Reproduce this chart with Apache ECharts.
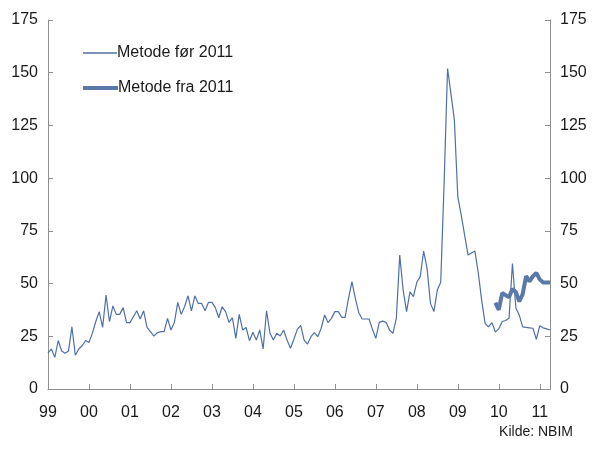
<!DOCTYPE html>
<html>
<head>
<meta charset="utf-8">
<script src="https://cdn.jsdelivr.net/npm/echarts@6/dist/echarts.min.js"></script>
<style>html,body{margin:0;padding:0;background:#fff}#c{width:592px;height:456px}</style>
</head>
<body>
<div id="c"></div>
<script>
// Monthly observations Jan 1999 - Apr 2011
var years = [1999, 2000, 2001, 2002, 2003, 2004, 2005, 2006, 2007, 2008, 2009, 2010, 2011];
var lastYearMonths = 4;

var seriesNames = ['Metode før 2011', 'Metode fra 2011'];

// Metode før 2011 (one value per month, Jan 1999 - Apr 2011)
var before1999 = [17, 19, 15, 23, 18, 17, 18, 29.5, 16, 19, 20.5, 23];
var before2000 = [22, 26.5, 32, 36.7, 29.2, 44.6, 32, 39.4, 35.4, 35.4, 38.6, 31.5];
var before2001 = [31.5, 34.3, 37.1, 33.2, 37.1, 29.2, 27.2, 25.1, 26.7, 27.2, 27.2, 33.5];
var before2002 = [28, 31.5, 41.1, 35.4, 39, 44.2, 37.1, 44.2, 40.6, 40.6, 37.1, 41.1];
var before2003 = [41.1, 38.6, 33.8, 39, 36.7, 31.6, 33.8, 24, 35.4, 28, 29.2, 22.9];
var before2004 = [26.9, 23.2, 28, 19, 37.1, 26.4, 23.2, 26.4, 25.1, 28, 23.2, 19.3];
var before2005 = [23.6, 28.3, 30.2, 23.2, 21.3, 24.8, 26.7, 24.8, 28.8, 35.1, 31.5, 33.5];
var before2006 = [36.7, 36.7, 34, 34, 43, 50.9, 43, 36.2, 33.2, 33.2, 33.2, 28.3];
var before2007 = [24, 31.6, 32.2, 31.6, 28, 26.4, 33.5, 63.5, 46.9, 36.7, 46.1, 43.8];
var before2008 = [50.6, 53.3, 65.4, 57.2, 40.6, 36.7, 46.9, 50.6, 98, 152, 140, 127.5];
var before2009 = [91.2, 82.5, 73, 63.5, 64.5, 65.5, 55, 42, 31, 29.5, 31.5, 27];
var before2010 = [28.5, 32, 32.5, 33.5, 59.5, 38.5, 35, 29.5, 29.2, 29, 28.8, 23.5];
var before2011 = [30, 29, 28.5, 28];

// Metode fra 2011 (Dec 2009 - Apr 2011)
var fromStart = '2009-12';
var fromValues = [41, 37.5, 45.5, 44.5, 43.5, 47.5, 46, 41.5, 45, 53.5, 51, 53.5, 55, 52, 50.5, 50.5, 50.5];

var yTicks = {min: 0, max: 175, interval: 25};

// build categories
var months = [];
years.forEach(function (y, k) {
  var n = (k === years.length - 1) ? lastYearMonths : 12;
  for (var m = 1; m <= n; m++) months.push(y + '-' + (m < 10 ? '0' + m : m));
});
var beforeValues = [].concat(before1999, before2000, before2001, before2002, before2003, before2004,
  before2005, before2006, before2007, before2008, before2009, before2010, before2011);
var startIdx = months.indexOf(fromStart);
var fromSeries = months.map(function (c, i) {
  return (i >= startIdx && i - startIdx < fromValues.length) ? fromValues[i - startIdx] : null;
});

var font = "'Liberation Sans', Arial, sans-serif";
var axisColor = '#8f8f8f';
var textColor = '#1a1a1a';

var yAxisCommon = {
  type: 'value', min: yTicks.min, max: yTicks.max, interval: yTicks.interval,
  splitLine: {show: false},
  axisLine: {show: true, lineStyle: {color: axisColor, width: 1}},
  axisTick: {show: true, inside: true, length: 5, lineStyle: {color: axisColor}},
  axisLabel: {color: textColor, fontSize: 16, fontFamily: font, margin: 10}
};

var chart = echarts.init(document.getElementById('c'), null, {renderer: 'canvas'});
chart.setOption({
  animation: false,
  backgroundColor: '#fff',
  grid: {left: 48, right: 42, top: 20, bottom: 67, containLabel: false},
  title: {
    text: 'Kilde: NBIM', right: 14, top: 420,
    textStyle: {fontSize: 14, fontWeight: 'normal', color: textColor, fontFamily: font}
  },
  legend: [
    {
      data: [seriesNames[0]], left: 78, top: 40, icon: 'rect', itemWidth: 34, itemHeight: 1.3,
      itemGap: 0, textStyle: {fontSize: 16, color: textColor, fontFamily: font, padding: [0, 0, 0, -5]}
    },
    {
      data: [seriesNames[1]], left: 78, top: 75, icon: 'rect', itemWidth: 35, itemHeight: 4,
      itemGap: 0, textStyle: {fontSize: 16, color: textColor, fontFamily: font, padding: [0, 0, 0, -5]}
    }
  ],
  xAxis: {
    type: 'category', data: months, boundaryGap: false,
    axisLine: {lineStyle: {color: axisColor}},
    axisTick: {show: true, inside: true, length: 5, interval: 11, lineStyle: {color: axisColor}},
    axisLabel: {
      interval: 11, color: textColor, fontSize: 16, fontFamily: font, margin: 16,
      formatter: function (v) { return v.slice(2, 4); }
    },
    splitLine: {show: false}
  },
  yAxis: [
    Object.assign({position: 'left'}, yAxisCommon),
    Object.assign({position: 'right'}, yAxisCommon)
  ],
  series: [
    {
      name: seriesNames[0], type: 'line', data: beforeValues, symbol: 'none',
      lineStyle: {color: '#4f70a6', width: 1.2}, itemStyle: {color: '#4f70a6'}
    },
    {
      name: seriesNames[1], type: 'line', data: fromSeries, symbol: 'none',
      lineStyle: {color: '#5b79a8', width: 4}, itemStyle: {color: '#5b79a8'}
    }
  ]
});
</script>
</body>
</html>
